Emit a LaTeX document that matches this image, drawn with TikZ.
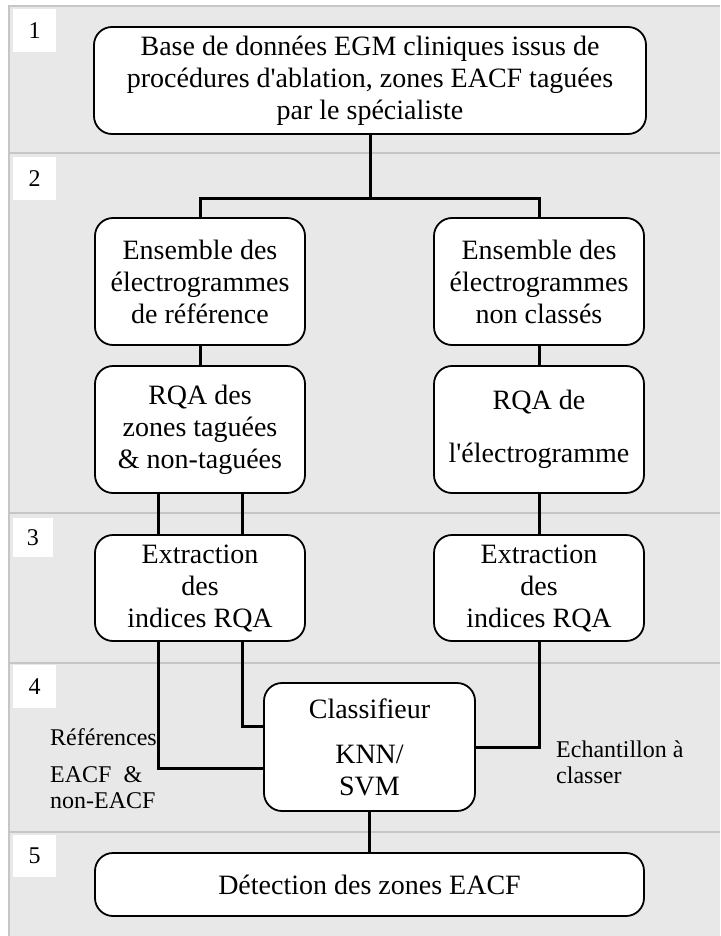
\documentclass[tikz,border=0pt]{standalone}
\usepackage{fontspec}
\setmainfont{Liberation Serif}[Ligatures=TeXOff]
\definecolor{bggray}{HTML}{E8E8E8}
\definecolor{sepgray}{HTML}{C6C6C6}
\begin{document}
\begin{tikzpicture}[x=1pt,y=-1pt,
  box/.style={draw=black,line width=1.8pt,rounded corners=18pt,fill=white,inner sep=0pt,align=center,font=\fontsize{28}{32}\selectfont},
  conn/.style={line width=3pt},
  lbl/.style={font=\fontsize{24}{28}\selectfont,anchor=base west,inner sep=0pt},
  numbox/.style={fill=white,inner sep=0pt,font=\fontsize{24}{28}\selectfont},
  sepline/.style={draw=sepgray,line width=2.5pt}]
\useasboundingbox (0,0) rectangle (720,936);
% background band
\fill[bggray] (9,6) rectangle (720,936);
\draw[sepline,line width=2pt] (720,6) -- (9,6) -- (9,936);
\draw[sepline] (9,153) -- (720,153);
\draw[sepline] (9,513) -- (720,513);
\draw[sepline] (9,663) -- (720,663);
\draw[sepline] (9,832) -- (720,832);
% step numbers
\node[numbox,minimum width=43pt,minimum height=43pt] (n1) at (34.5,30.5) {1};
\node[numbox,minimum width=43pt,minimum height=43pt] (n2) at (34.5,178.5) {2};
\node[numbox,minimum width=40pt,minimum height=39pt] (n3) at (33,537.5) {3};
\node[numbox,minimum width=43pt,minimum height=43pt] (n4) at (34.5,686.5) {4};
\node[numbox,minimum width=43pt,minimum height=42pt] (n5) at (34.5,856) {5};
% boxes
\node[box,minimum width=552pt,minimum height=107pt] (base) at (370,80.5)
  {Base de données EGM cliniques issus de\\procédures d'ablation, zones EACF taguées\\par le spécialiste};
\node[box,minimum width=210pt,minimum height=127pt] (ensL) at (200,281.5)
  {Ensemble des\\électrogrammes\\de référence};
\node[box,minimum width=210pt,minimum height=127pt] (ensR) at (539,281.5)
  {Ensemble des\\électrogrammes\\non classés};
\node[box,minimum width=210pt,minimum height=127pt] (rqaL) at (200,429.5)
  {RQA des\\zones taguées\\\& non-taguées};
\node[box,minimum width=210pt,minimum height=127pt] (rqaR) at (539,429.5)
  {RQA de\\[21pt]l'électrogramme};
\node[box,minimum width=210pt,minimum height=106pt] (extL) at (200,588)
  {Extraction\\des\\indices RQA};
\node[box,minimum width=210pt,minimum height=106pt] (extR) at (539,588)
  {Extraction\\des\\indices RQA};
\node[box,minimum width=211pt,minimum height=128pt] (cls) at (369.5,747)
  {Classifieur\\[13pt]KNN/\\SVM};
\node[box,minimum width=549pt,minimum height=63pt] (det) at (369.5,884.5)
  {Détection des zones EACF};
% connectors
\coordinate (j) at (370,198);
\draw[conn] (base.south) -- (j);
\draw[conn] (ensL.north) |- (j) -| (ensR.north);
\draw[conn] (ensL.south) -- (rqaL.north);
\draw[conn] (ensR.south) -- (rqaR.north);
\draw[conn] ([xshift=-42pt]rqaL.south) -- ([xshift=-42pt]extL.north);
\draw[conn] ([xshift=42pt]rqaL.south) -- ([xshift=42pt]extL.north);
\draw[conn] (rqaR.south) -- (extR.north);
\draw[conn] ([xshift=42pt]extL.south) |- ([yshift=21pt]cls.west);
\draw[conn] ([xshift=-42pt]extL.south) |- ([yshift=-21pt]cls.west);
\draw[conn] (extR.south) |- (cls.east);
\draw[conn] (cls.south) -- (det.north);
% side labels
\node[lbl] (r1) at (50,745) {Références};
\node[lbl] (r2) at (50,782) {EACF\ \ \&};
\node[lbl] (r3) at (50,808) {non-EACF};
\node[lbl] (e1) at (556,757) {Echantillon à};
\node[lbl] (e2) at (556,783) {classer};
\end{tikzpicture}
\end{document}
